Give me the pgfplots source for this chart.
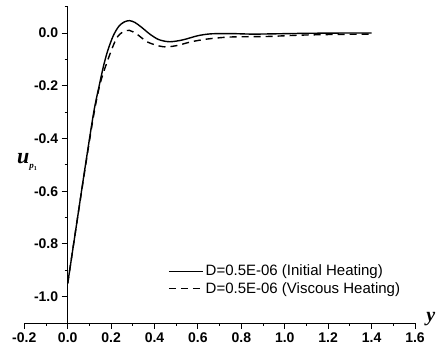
\documentclass[border=0pt]{standalone}
\usepackage{fontspec}
\setmainfont{Liberation Sans}
\newfontfamily\serif{Liberation Serif}
\usepackage{pgfplots}
\pgfplotsset{compat=1.18}
\begin{document}
\begin{tikzpicture}[x=1pt,y=1pt]
\begin{axis}[
  scale only axis, width=390.7pt, height=316.3pt,
  at={(0,0)}, anchor=south west,
  xmin=-0.2, xmax=1.6, ymin=-1.1, ymax=0.1,
  axis x line=bottom, axis y line=middle,
  axis line style={-, line width=0.9pt},
  tick align=outside,
  major tick length=6pt, minor tick length=3pt,
  every tick/.style={line width=0.9pt, black},
  xtick={-0.2,0,0.2,...,1.6}, minor xtick={-0.1,0.1,...,1.5},
  ytick={-1,-0.8,-0.6,-0.4,-0.2,0}, minor ytick={-1.1,-0.9,...,0.1},
  /pgf/number format/assume math mode=true,
  xticklabel style={/pgf/number format/.cd, fixed, zerofill, precision=1},
  yticklabel style={/pgf/number format/.cd, fixed, zerofill, precision=1},
  ticklabel style={font=\bfseries\fontsize{14}{14}\selectfont},
  clip=false,
  legend style={draw=none, fill=none, at={(0.368,0.19)}, anchor=north west,
    font=\fontsize{15}{17}\selectfont, inner sep=0pt, row sep=1pt,
    legend cell align=left},
  legend image code/.code={\draw[#1] (0pt,0pt) -- (34pt,0pt);},
]
\addplot[black, line width=1.4pt, smooth, tension=0.5] coordinates {
(0,-0.95) (0.04,-0.73) (0.08,-0.51) (0.12,-0.30) (0.145,-0.2) (0.165,-0.125)
(0.185,-0.065) (0.21,-0.01) (0.235,0.025) (0.26,0.042) (0.285,0.047)
(0.31,0.04) (0.34,0.022) (0.38,-0.005) (0.42,-0.025) (0.47,-0.033)
(0.53,-0.026) (0.60,-0.01) (0.66,-0.003) (0.75,-0.002) (0.85,-0.004)
(0.95,-0.003) (1.1,-0.001) (1.25,0.0) (1.4,0.0)};
\addlegendentry{D=0.5E-06 (Initial Heating)}
\addplot[black, line width=1.4pt, dash pattern=on 7pt off 5pt, smooth, tension=0.5] coordinates {
(0,-0.95) (0.04,-0.73) (0.08,-0.515) (0.12,-0.31) (0.15,-0.19) (0.19,-0.09)
(0.225,-0.02) (0.255,0.005) (0.285,0.01) (0.32,-0.005) (0.37,-0.035)
(0.44,-0.052) (0.5,-0.048) (0.565,-0.034) (0.64,-0.023) (0.75,-0.015)
(0.92,-0.013) (1.07,-0.008) (1.25,-0.005) (1.4,-0.004)};
\addlegendentry{D=0.5E-06 (Viscous Heating)}
\node at (rel axis cs:0.007,0.51) {\serif\bfseries\itshape\fontsize{22}{22}\selectfont u\raisebox{-5pt}{\fontsize{9}{9}\selectfont p\raisebox{-2pt}{\fontsize{6}{6}\selectfont\upshape 1}}};
\node[anchor=west] at (rel axis cs:1.02,0.012) {\serif\bfseries\itshape\fontsize{20}{20}\selectfont y};
\end{axis}
\pgfresetboundingbox
\useasboundingbox (-24.3pt,-29pt) rectangle (414.7pt,323pt);
\end{tikzpicture}
\end{document}
